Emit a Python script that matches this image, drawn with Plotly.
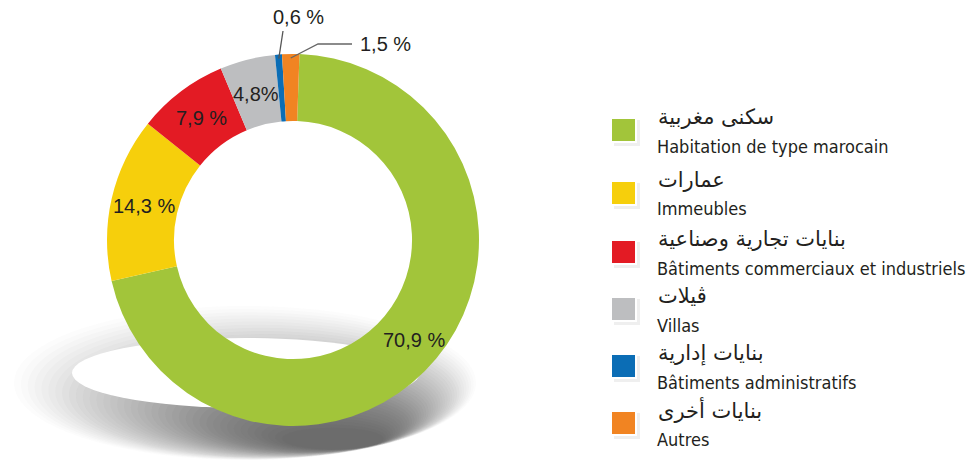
import math
import plotly.graph_objects as go

# ---- data ----
labels_ar = ["سكنى مغربية", "عمارات", "بنايات تجارية وصناعية", "ڤيلات", "بنايات إدارية", "بنايات أخرى"]
labels_fr = ["Habitation de type marocain", "Immeubles", "Bâtiments commerciaux et industriels",
             "Villas", "Bâtiments administratifs", "Autres"]
values = [70.9, 14.3, 7.9, 4.8, 0.6, 1.5]
value_text = ["70,9 %", "14,3 %", "7,9 %", "4,8%", "0,6 %", "1,5 %"]
colors = ["#a2c53a", "#f6cf0c", "#e31b24", "#bdbec0", "#0b6db5", "#f18422"]

W, H = 976, 462
CX, CY, R = 293, 240, 186       # pie centre / radius in pixels
HOLE = 0.64
ROT = 2


def px(x):
    return x / W


def py(y):
    return 1 - y / H


fig = go.Figure()

fig.add_trace(go.Pie(
    labels=labels_fr,
    values=values,
    marker=dict(colors=colors, line=dict(width=0)),
    hole=HOLE,
    sort=False,
    direction="clockwise",
    rotation=ROT,
    textinfo="none",
    hoverinfo="label+percent",
    showlegend=False,
    domain=dict(x=[px(CX - R), px(CX + R)], y=[py(CY + R), py(CY - R)]),
))

shapes = []
# decorative ring shadow under the donut (soft gradient built from stacked ellipses)
N = 40
ox0, ox1, oy0, oy1 = 14, 476, 306, 460
dkx, dky = 335, 440
for i in range(N):
    t = i / N
    ocx, ocy = (ox0 + ox1) / 2, (oy0 + oy1) / 2
    cx = ocx * (1 - t) + dkx * t
    cy = ocy * (1 - t) + dky * t
    rx = (ox1 - ox0) / 2 * (1 - 0.8 * t)
    ry = (oy1 - oy0) / 2 * (1 - 0.88 * t)
    shapes.append(dict(type="circle", xref="paper", yref="paper",
                       x0=px(cx - rx), x1=px(cx + rx), y0=py(cy + ry), y1=py(cy - ry),
                       fillcolor="#505050", opacity=0.02 + 0.035 * t, line=dict(width=0),
                       layer="below"))
shapes.append(dict(type="circle", xref="paper", yref="paper",
                   x0=px(72), x1=px(420), y0=py(408), y1=py(338),
                   fillcolor="white", line=dict(width=0), layer="below"))

# legend swatches
sw_y = [130, 193, 252, 309, 366, 423]
for c, yy in zip(colors, sw_y):
    shapes.append(dict(type="rect", xref="paper", yref="paper",
                       x0=px(614), x1=px(640), y0=py(yy + 16), y1=py(yy - 10),
                       fillcolor="#e4e4e4", line=dict(width=0), opacity=0.6, layer="above"))
    shapes.append(dict(type="rect", xref="paper", yref="paper",
                       x0=px(611), x1=px(636), y0=py(yy + 12), y1=py(yy - 12),
                       fillcolor=c, line=dict(color="white", width=2), layer="above"))

annotations = []
for ar, fr, yy in zip(labels_ar, labels_fr, sw_y):
    annotations.append(dict(x=px(656), y=py(yy - 13), xref="paper", yref="paper",
                            xanchor="left", yanchor="middle", showarrow=False, text=ar,
                            font=dict(family="DejaVu Sans", size=21, color="#231f20")))
    annotations.append(dict(x=px(655), y=py(yy + 16), xref="paper", yref="paper",
                            xanchor="left", yanchor="middle", showarrow=False, text=fr,
                            font=dict(family="DejaVu Sans Condensed", size=18,
                                      color="#231f20")))

# value labels placed at slice mid-angles
total = sum(values)
cum = 0
rmid = R * (1 + HOLE) / 2
mids = []
for v in values:
    a = math.radians(ROT + 360 * (cum + v / 2) / total)
    mids.append(a)
    cum += v

inside_r = [rmid + 4, rmid, rmid, rmid - 2]
for i in range(4):
    a = mids[i]
    x = CX + inside_r[i] * math.sin(a)
    y = CY - inside_r[i] * math.cos(a)
    annotations.append(dict(x=px(x), y=py(y), xref="paper", yref="paper", showarrow=False,
                            xanchor="center", yanchor="middle",
                            text=value_text[i],
                            font=dict(family="Liberation Sans, Arial", size=20, color="#231f20")))

# small slices with leader lines
a4 = mids[4]
bx, by = CX + (R - 4) * math.sin(a4), CY - (R - 4) * math.cos(a4)
shapes.append(dict(type="line", xref="paper", yref="paper",
                   x0=px(bx), y0=py(by), x1=px(283), y1=py(31),
                   line=dict(color="#555", width=1.3)))
annotations.append(dict(x=px(298), y=py(17), xref="paper", yref="paper",
                        xanchor="center", yanchor="middle",
                        showarrow=False, text=value_text[4],
                        font=dict(family="Liberation Sans, Arial", size=20, color="#231f20")))
a5 = mids[5]
ox, oy = CX + (R - 4) * math.sin(a5), CY - (R - 4) * math.cos(a5)
shapes.append(dict(type="path", xref="paper", yref="paper",
                   path=f"M {px(ox)},{py(oy)} L {px(318)},{py(44)} L {px(352)},{py(44)}",
                   line=dict(color="#666", width=1.3)))
annotations.append(dict(x=px(358), y=py(44), xref="paper", yref="paper",
                        xanchor="left", yanchor="middle",
                        showarrow=False, text=value_text[5],
                        font=dict(family="Liberation Sans, Arial", size=20, color="#231f20")))

fig.update_layout(
    width=W, height=H,
    margin=dict(l=0, r=0, t=0, b=0),
    paper_bgcolor="white", plot_bgcolor="white",
    shapes=shapes, annotations=annotations,
)

fig.write_html("out.html", config={"displayModeBar": False},
               post_script="document.body.style.margin='0';document.body.style.overflow='hidden';")
